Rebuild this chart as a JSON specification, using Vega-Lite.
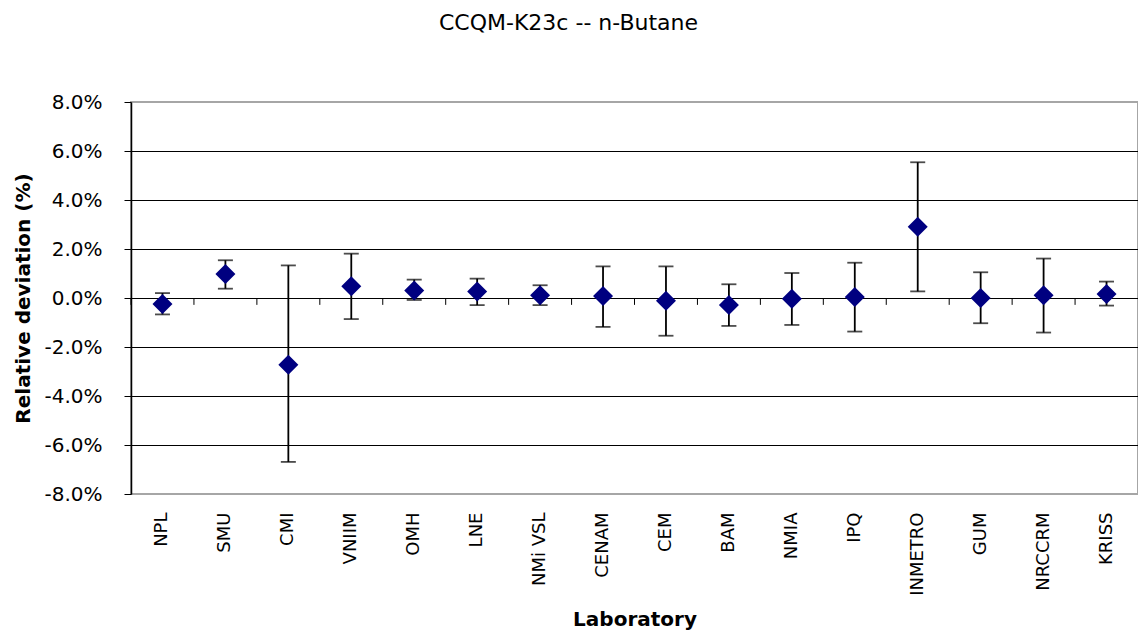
{
  "$schema": "https://vega.github.io/schema/vega-lite/v6.json",
  "description": "CCQM-K23c n-Butane relative deviations with uncertainty bars",
  "autosize": {"type": "none"},
  "padding": {"left": 131, "top": 102, "right": 0, "bottom": 142},
  "width": 1007,
  "height": 392,
  "background": "white",
  "title": {
    "text": "CCQM-K23c -- n-Butane",
    "font": "DejaVu Sans",
    "fontSize": 22,
    "fontWeight": "normal",
    "color": "black",
    "anchor": "middle",
    "baseline": "alphabetic",
    "offset": 40,
    "dx": -66
  },
  "data": {
    "values": [
      {"lab": "NPL", "dev": -0.24, "hi": 0.20, "lo": -0.67},
      {"lab": "SMU", "dev": 0.98, "hi": 1.54, "lo": 0.38},
      {"lab": "CMI", "dev": -2.72, "hi": 1.33, "lo": -6.69},
      {"lab": "VNIIM", "dev": 0.48, "hi": 1.81, "lo": -0.86},
      {"lab": "OMH", "dev": 0.31, "hi": 0.75, "lo": -0.08},
      {"lab": "LNE", "dev": 0.27, "hi": 0.79, "lo": -0.29},
      {"lab": "NMi VSL", "dev": 0.11, "hi": 0.52, "lo": -0.29},
      {"lab": "CENAM", "dev": 0.08, "hi": 1.29, "lo": -1.18},
      {"lab": "CEM", "dev": -0.11, "hi": 1.29, "lo": -1.54},
      {"lab": "BAM", "dev": -0.29, "hi": 0.56, "lo": -1.14},
      {"lab": "NMIA", "dev": -0.03, "hi": 1.02, "lo": -1.10},
      {"lab": "IPQ", "dev": 0.04, "hi": 1.44, "lo": -1.37},
      {"lab": "INMETRO", "dev": 2.91, "hi": 5.54, "lo": 0.27},
      {"lab": "GUM", "dev": 0.00, "hi": 1.05, "lo": -1.03},
      {"lab": "NRCCRM", "dev": 0.11, "hi": 1.61, "lo": -1.41},
      {"lab": "KRISS", "dev": 0.16, "hi": 0.67, "lo": -0.31}
    ]
  },
  "encoding": {
    "x": {
      "field": "lab",
      "type": "nominal",
      "sort": null,
      "title": "Laboratory",
      "scale": {"type": "band", "paddingInner": 0, "paddingOuter": 0},
      "axis": {
        "labelAngle": -90,
        "labelFont": "DejaVu Sans",
        "labelFontSize": 18,
        "labelColor": "black",
        "labelPadding": 18,
        "ticks": false,
        "domain": false,
        "grid": false,
        "titleFont": "DejaVu Sans",
        "titleFontSize": 20,
        "titleFontWeight": "bold",
        "titleColor": "black",
        "titlePadding": 14
      }
    }
  },
  "layer": [
    {
      "mark": {"type": "rule", "color": "black", "strokeWidth": 1},
      "encoding": {
        "y": {"datum": 0, "type": "quantitative"}
      }
    },
    {
      "mark": {"type": "rule", "color": "black", "strokeWidth": 1},
      "encoding": {
        "x": {"field": "lab", "type": "nominal", "sort": null, "bandPosition": 0},
        "y": {"datum": 0, "type": "quantitative"},
        "y2": {"datum": -0.28}
      }
    },
    {
      "mark": {"type": "rule", "color": "black", "strokeWidth": 1.8},
      "encoding": {
        "y": {
          "field": "lo",
          "type": "quantitative",
          "title": "Relative deviation (%)",
          "scale": {"domain": [-8, 8], "nice": false, "zero": false},
          "axis": {
            "values": [-8, -6, -4, -2, 0, 2, 4, 6, 8],
            "labelExpr": "(datum.value < 0 ? '-' : '') + format(abs(datum.value), '.1f') + '%'",
            "labelFont": "DejaVu Sans",
            "labelFontSize": 20,
            "labelColor": "black",
            "labelPadding": 22,
            "tickColor": "black",
            "tickSize": 7,
            "domainColor": "black",
            "domainWidth": 1.5,
            "grid": true,
            "gridColor": {
              "condition": {"test": "abs(datum.value) == 8", "value": "#a6a6a6"},
              "value": "black"
            },
            "gridWidth": 1,
            "titleFont": "DejaVu Sans",
            "titleFontSize": 20,
            "titleFontWeight": "bold",
            "titleColor": "black",
            "titlePadding": 10
          }
        },
        "y2": {"field": "hi"}
      }
    },
    {
      "mark": {"type": "tick", "color": "black", "size": 15, "thickness": 1.8},
      "encoding": {"y": {"field": "hi", "type": "quantitative"}}
    },
    {
      "mark": {"type": "tick", "color": "black", "size": 15, "thickness": 1.8},
      "encoding": {"y": {"field": "lo", "type": "quantitative"}}
    },
    {
      "mark": {"type": "point", "shape": "diamond", "filled": true, "size": 400, "color": "#000080", "opacity": 1},
      "encoding": {"y": {"field": "dev", "type": "quantitative"}}
    }
  ],
  "config": {
    "view": {"stroke": "#a6a6a6", "strokeWidth": 2},
    "font": "DejaVu Sans"
  }
}
